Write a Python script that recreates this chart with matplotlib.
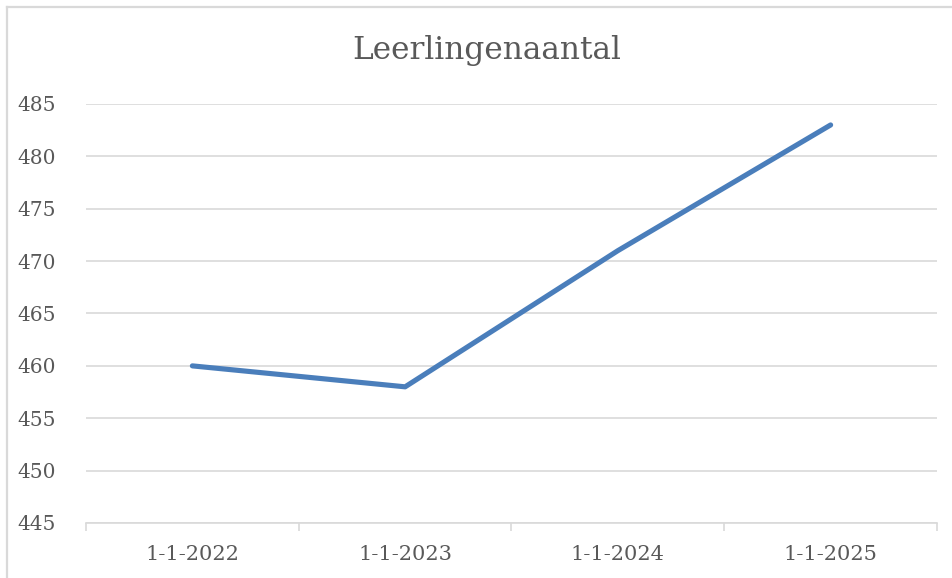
import matplotlib
matplotlib.use('Agg')
import matplotlib.pyplot as plt
from matplotlib.lines import Line2D

# data
dates = ['1-1-2022', '1-1-2023', '1-1-2024', '1-1-2025']
leerlingen = [460, 458, 471, 483]
yticks = [445, 450, 455, 460, 465, 470, 475, 480, 485]

grey = '#d9d9d9'
text_col = '#595959'

plt.rcParams['font.family'] = ['DejaVu Serif']

fig = plt.figure(figsize=(9.53, 5.78), dpi=100)
ax = fig.add_axes([86/953, 55/578, 851/953, 419/578])

x = list(range(len(dates)))
ax.plot(x, leerlingen, color='#4a7ebb', lw=3.7, solid_capstyle='round',
        solid_joinstyle='round', zorder=3)

ax.set_xlim(-0.5, len(dates) - 0.5)
ax.set_ylim(yticks[0], yticks[-1])
ax.set_yticks(yticks)
ax.set_xticks(x)
ax.set_xticklabels(dates)
# category boundaries get the small tick marks
ax.set_xticks([i - 0.5 for i in range(len(dates) + 1)], minor=True)
ax.tick_params(axis='x', which='major', length=0, pad=16, labelsize=15, colors=text_col)
ax.tick_params(axis='x', which='minor', length=6, width=1.2, color=grey)
ax.tick_params(axis='y', length=0, pad=22, labelsize=14.5, colors=text_col)

ax.grid(axis='y', color=grey, lw=1.2)
ax.set_axisbelow(True)
for s in ['top', 'right', 'left']:
    ax.spines[s].set_visible(False)
ax.spines['bottom'].set_color(grey)
ax.spines['bottom'].set_linewidth(1.2)

# title is centred on the whole chart box, which runs past the right edge
fig.text(487/953, 1 - 51/578, 'Leerlingenaantal', ha='center', va='center',
         fontsize=22.5, color=text_col)

# outer chart frame (only top and left show in the crop)
fig.add_artist(Line2D([7/953, 7/953], [0, 1 - 7/578], color=grey, lw=1.6))
fig.add_artist(Line2D([7/953, 1], [1 - 7/578, 1 - 7/578], color=grey, lw=1.6))

fig.savefig('out.png', dpi=100, facecolor='white')
